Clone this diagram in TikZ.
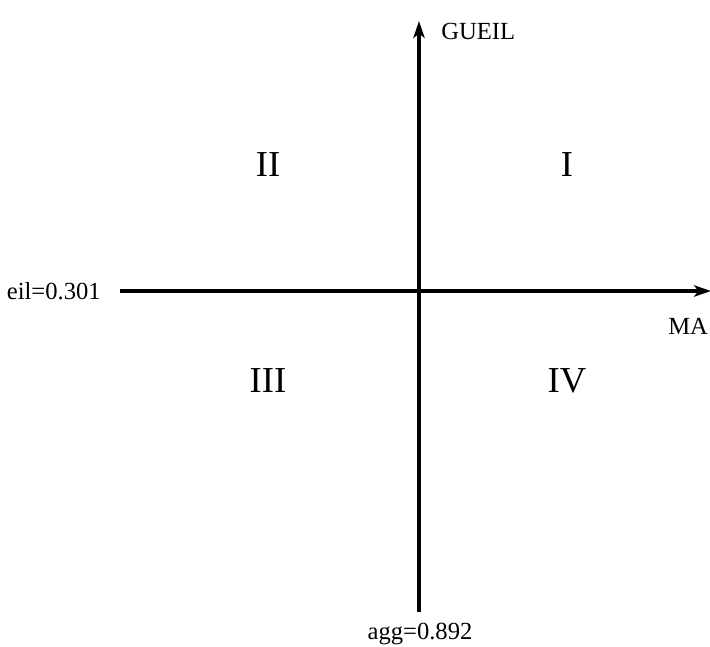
\documentclass[tikz,border=0pt]{standalone}
\usepackage{fontspec}
\setmainfont{Liberation Serif}
\usetikzlibrary{arrows.meta, positioning}

\begin{document}
\begin{tikzpicture}[
  x=0.025cm, y=-0.025cm,
  axis/.style={line width=2.8pt, -{Stealth[length=12pt, width=8pt, inset=3pt]}},
  quad/.style={font=\fontsize{26}{30}\selectfont, inner sep=0pt},
  lbl/.style={font=\fontsize{17.5}{20}\selectfont, inner sep=0pt}
]
  \useasboundingbox (0,0) rectangle (710,646);
  % axes end points
  \coordinate (xstart) at (120,291);
  \coordinate (xend) at (711,291);
  \coordinate (ybot) at (419,612);
  \coordinate (ytop) at (419,21);
  \draw[axis] (xstart) -- (xend);
  \draw[axis] (ybot) -- (ytop);
  % axis labels
  \node[lbl, anchor=west] (gueil) at (441,31) {GUEIL};
  \node[lbl, anchor=east] (eil) at (101,291) {eil=0.301};
  \node[lbl, anchor=west] (ma) at (668,326) {MA};
  \node[lbl] (agg) at (420,634) {agg=0.892};
  % quadrants
  \node[quad] (q2) at (268,165) {II};
  \node[quad] (q1) at (567,165) {I};
  \node[quad] (q3) at (268,381) {III};
  \node[quad] (q4) at (567,381) {IV};
\end{tikzpicture}
\end{document}
